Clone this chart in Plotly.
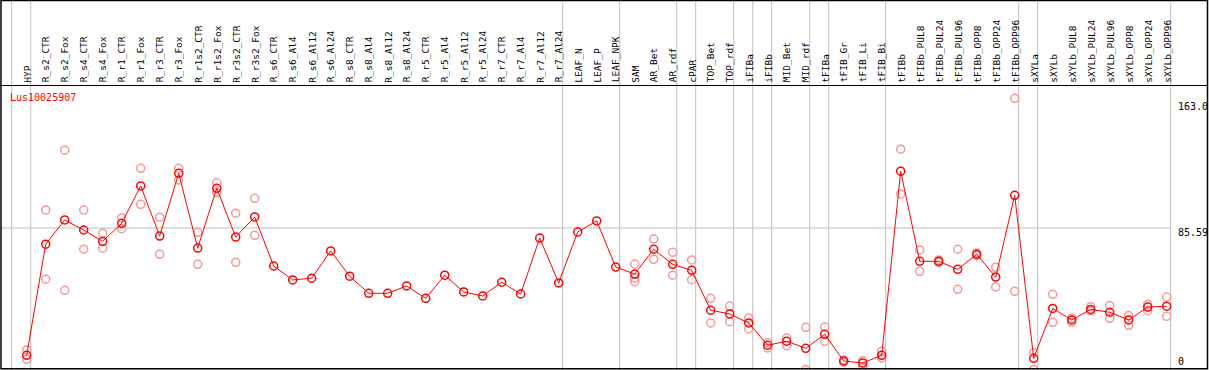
import plotly.graph_objects as go

categories = ["HYP", "R_s2_CTR", "R_s2_Fox", "R_s4_CTR", "R_s4_Fox", "R_r1_CTR", "R_r1_Fox",
              "R_r3_CTR", "R_r3_Fox", "R_r1s2_CTR", "R_r1s2_Fox", "R_r3s2_CTR", "R_r3s2_Fox",
              "R_s6_CTR", "R_s6_Al4", "R_s6_Al12", "R_s6_Al24", "R_s8_CTR", "R_s8_Al4",
              "R_s8_Al12", "R_s8_Al24", "R_r5_CTR", "R_r5_Al4", "R_r5_Al12", "R_r5_Al24",
              "R_r7_CTR", "R_r7_Al4", "R_r7_Al12", "R_r7_Al24", "LEAF_N", "LEAF_P", "LEAF_NPK",
              "SAM", "AR_Bet", "AR_rdf", "cPAR", "TOP_Bet", "TOP_rdf", "iFIBa", "iFIBb",
              "MID_Bet", "MID_rdf", "tFIBa", "tFIB_Gr", "tFIB_Li", "tFIB_Bi", "tFIBb",
              "tFIBb_PUL8", "tFIBb_PUL24", "tFIBb_PUL96", "tFIBb_OPP8", "tFIBb_OPP24",
              "tFIBb_OPP96", "sXYLa", "sXYLb", "sXYLb_PUL8", "sXYLb_PUL24", "sXYLb_PUL96",
              "sXYLb_OPP8", "sXYLb_OPP24", "sXYLb_OPP96"]

mean_values = [9.6, 75.9, 90.4, 84.4, 77.6, 88.4, 110.7, 80.8, 118.2, 73.6, 109.3, 80.2, 92.2,
               62.9, 54.6, 55.6, 71.9, 56.8, 46.6, 46.6, 51.0, 43.6, 57.4, 47.4, 45.0,
               53.2, 46.2, 79.6, 52.8, 83.2, 89.8, 62.3,
               58.1, 72.9, 63.9, 60.3, 36.5, 34.3, 28.9, 15.6, 18.0, 13.8, 22.1, 6.2, 5.0, 9.6,
               119.5, 65.7, 65.7, 60.9, 69.9, 56.3, 105.1,
               7.8, 37.6, 30.7, 37.0, 35.3, 30.7, 38.4, 38.9]

rep_a = [12.8, 96.3, 132.0, 96.3, 82.4, 91.6, 121.2, 92.0, 121.2, 83.0, 112.6, 94.4, 103.3,
         None, None, None, None, None, None, None, None, None, None, None, None,
         None, None, None, None, None, None, None,
         64.1, 79.0, 71.1, 66.5, 43.6, 39.0, 31.9, 17.1, 19.9, 26.3, 26.5, 6.8, 6.4, 12.0,
         132.6, 72.5, 66.5, 72.9, 70.6, 62.1, 163.0,
         11.2, 46.0, 31.7, 38.6, 39.4, 33.3, 40.0, 44.4]

rep_b = [7.2, 55.0, 48.4, 72.9, 73.5, 85.2, 99.7, 69.9, 114.2, 63.9, 106.7, 65.1, 81.2,
         None, None, None, None, None, None, None, None, None, None, None, None,
         None, None, None, None, None, None, None,
         53.5, 66.9, 57.4, 54.7, 28.9, 29.7, 25.3, 14.0, 15.3, 1.2, 18.0, 5.6, 2.8, 8.0,
         105.9, 59.7, 65.0, 49.0, 69.2, 50.4, 47.8,
         1.2, 29.3, 29.3, 36.0, 31.7, 27.5, 36.2, 32.9]

rep_c = [None] * 32 + [55.6] + [None] * 28

# indices after which a group separator is drawn (-1 = before first)
group_ends = [-1, 0, 28, 31, 34, 35, 37, 38, 39, 41, 42, 45, 52, 53, 60]

y_ticks = [163.0, 85.59, 0]
y_tick_labels = ["163.0", "85.59", "0"]
gene_name = "Lus10025907"

W, H = 1209, 370
X0, DX = 26.7, 19.0          # pixel of first category, pixel step
Y0PX, KY = 371.4, 1.6755     # pixel of value 0, pixels per unit

x_idx = list(range(len(categories)))
FONT = "DejaVu Sans Mono"

fig = go.Figure()
for reps in (rep_a, rep_b, rep_c):
    fig.add_trace(go.Scatter(
        x=x_idx, y=reps, mode="markers",
        marker=dict(symbol="circle-open", size=8, color="#f29a9a", line=dict(width=1.5)),
        hoverinfo="skip", showlegend=False))
fig.add_trace(go.Scatter(
    x=x_idx, y=mean_values, mode="lines+markers",
    line=dict(color="#ff0000", width=1),
    marker=dict(symbol="circle-open", size=8, color="#ff0000", line=dict(width=1.5)),
    showlegend=False))

shapes = []
for g in group_ends:
    shapes.append(dict(type="line", xref="x", yref="paper", x0=g + 4 / DX, x1=g + 4 / DX,
                       y0=0, y1=1, line=dict(color="#c0c0c0", width=1), layer="below"))
shapes.append(dict(type="line", xref="paper", yref="y", x0=0, x1=(X0 + DX * 60 + 4) / W,
                   y0=y_ticks[1], y1=y_ticks[1], line=dict(color="#c0c0c0", width=1), layer="below"))
shapes.append(dict(type="line", xref="paper", yref="paper", x0=0, x1=1207.5 / W,
                   y0=1 - 85.5 / H, y1=1 - 85.5 / H, line=dict(color="black", width=1)))
shapes.append(dict(type="rect", xref="paper", yref="paper", x0=1 / W, x1=1207.5 / W,
                   y0=1 - 368.8 / H, y1=1 - 0.5 / H, line=dict(color="black", width=1.5)))

annotations = []
for i, c in enumerate(categories):
    annotations.append(dict(x=i, y=1 - 83.5 / H, xref="x", yref="paper", text=c,
                            textangle=-90, showarrow=False, xanchor="center", yanchor="bottom",
                            font=dict(family=FONT, size=9.5, color="black"), borderpad=0))
annotations.append(dict(x=9 / W, y=1 - 97 / H, xref="paper", yref="paper", text=gene_name,
                        showarrow=False, xanchor="left", yanchor="middle",
                        font=dict(family=FONT, size=10, color="#ff0000"), borderpad=0))
label_centers = [106.7, 232.3, 361.7]
for v, t, cy in zip(y_ticks, y_tick_labels, label_centers):
    annotations.append(dict(x=1177 / W, y=1 - cy / H, xref="paper", yref="paper", text=t,
                            showarrow=False, xanchor="left", yanchor="middle",
                            font=dict(family=FONT, size=10, color="black"), borderpad=0))

fig.update_layout(
    width=W, height=H, margin=dict(l=0, r=0, t=0, b=0, pad=0),
    paper_bgcolor="white", plot_bgcolor="white",
    xaxis=dict(range=[-X0 / DX, (W - X0) / DX], visible=False, fixedrange=True),
    yaxis=dict(range=[(Y0PX - H) / KY, Y0PX / KY], visible=False, fixedrange=True),
    shapes=shapes, annotations=annotations, showlegend=False,
)

fig.write_html("out.html", config={"displayModeBar": False},
               post_script="document.body.style.margin='0';document.body.style.overflow='hidden';")
